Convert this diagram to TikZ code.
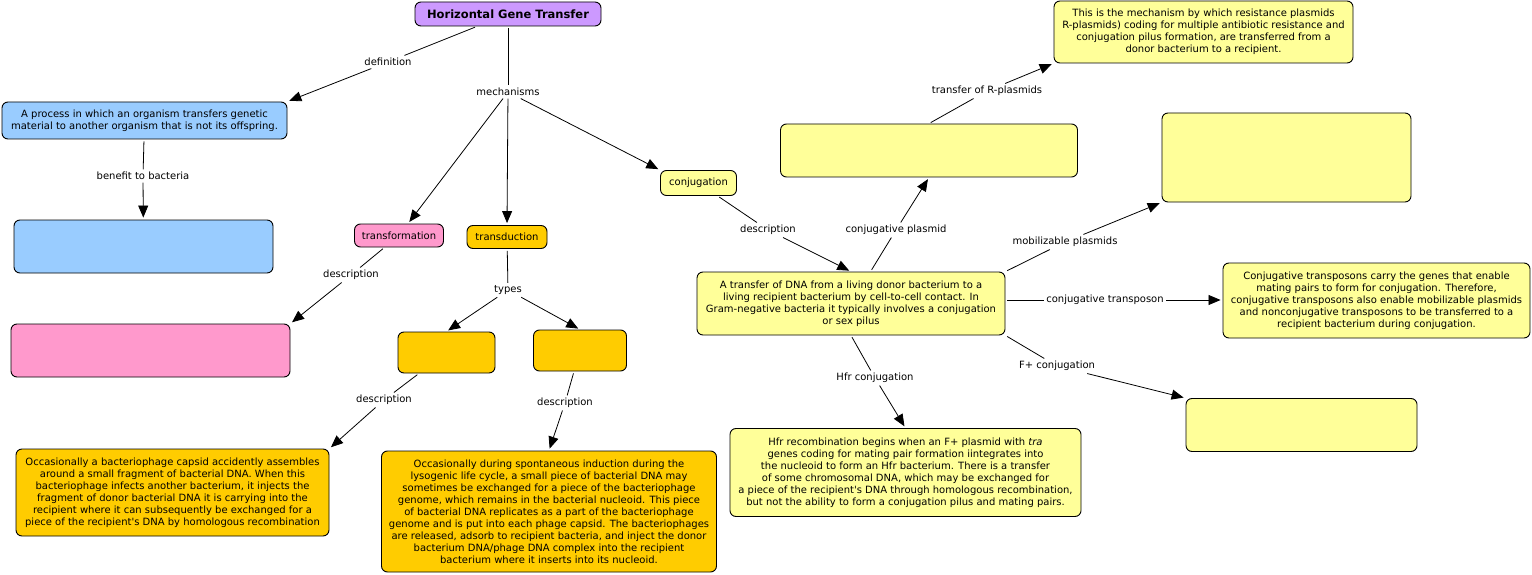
\documentclass[tikz,border=0pt]{standalone}
\usepackage{fontspec}
\setmainfont{DejaVu Sans}
\usetikzlibrary{arrows.meta}
\definecolor{cpurple}{HTML}{CC99FF}
\definecolor{cblue}{HTML}{99CCFF}
\definecolor{cpink}{HTML}{FF99CC}
\definecolor{corange}{HTML}{FFCC00}
\definecolor{cyellow}{HTML}{FFFF99}
\newcommand{\txtfont}{\fontsize{10}{12}\selectfont}
\newcommand{\apos}{\textquotesingle}
\begin{document}
\begin{tikzpicture}[x=1pt,y=-1pt,
  box/.style={draw=black, line width=0.9pt, rounded corners=6pt, align=center, inner sep=0pt, font=\txtfont},
  lbl/.style={font=\txtfont, inner sep=2.5pt},
  conn/.style={line width=0.8pt, shorten <=2pt},
  arr/.style={line width=0.8pt, shorten >=2pt, -{Triangle[length=12pt,width=10pt]}}
]
\useasboundingbox (0,0) rectangle (1532,575);
% concept nodes
\node[box, fill=cpurple, minimum width=186, minimum height=24, font=\bfseries\fontsize{11.5}{13}\selectfont] (hgt) at (508,14) {Horizontal Gene Transfer};
\node[box, fill=cblue, minimum width=285, minimum height=37] (def) at (144.5,120.5) {A process in which an organism transfers genetic\\material to another organism that is not its offspring.};
\node[box, fill=cblue, minimum width=259, minimum height=53] (ben) at (143.5,246.5) {};
\node[box, fill=cpink, minimum width=89, minimum height=23] (tf) at (399,235.5) {transformation};
\node[box, fill=cpink, minimum width=279, minimum height=53] (tfd) at (150.5,350.5) {};
\node[box, fill=corange, minimum width=80, minimum height=23] (td) at (507,237) {transduction};
\node[box, fill=corange, minimum width=97, minimum height=41] (ty1) at (446.5,352.5) {};
\node[box, fill=corange, minimum width=93, minimum height=41] (ty2) at (580,350.5) {};
\node[box, fill=corange, minimum width=313, minimum height=87] (ty1d) at (172.5,492.5) {Occasionally a bacteriophage capsid accidently assembles\\around a small fragment of bacterial DNA. When this\\bacteriophage infects another bacterium, it injects the\\fragment of donor bacterial DNA it is carrying into the\\recipient where it can subsequently be exchanged for a\\piece of the recipient\apos s DNA by homologous recombination};
\node[box, fill=corange, minimum width=335, minimum height=121] (ty2d) at (549,511.5) {Occasionally during spontaneous induction during the\\lysogenic life cycle, a small piece of bacterial DNA may\\sometimes be exchanged for a piece of the bacteriophage\\genome, which remains in the bacterial nucleoid. This piece\\of bacterial DNA replicates as a part of the bacteriophage\\genome and is put into each phage capsid. The bacteriophages\\are released, adsorb to recipient bacteria, and inject the donor\\bacterium DNA/phage DNA complex into the recipient\\bacterium where it inserts into its nucleoid.};
\node[box, fill=cyellow, minimum width=76, minimum height=25] (cj) at (698.5,183) {conjugation};
\node[box, fill=cyellow, minimum width=297, minimum height=53] (cp) at (929,150.5) {};
\node[box, fill=cyellow, minimum width=299, minimum height=62] (rp) at (1203.5,32) {This is the mechanism by which resistance plasmids\\R-plasmids) coding for multiple antibiotic resistance and\\conjugation pilus formation, are transferred from a\\donor bacterium to a recipient.};
\node[box, fill=cyellow, minimum width=249, minimum height=89] (mp) at (1286.5,157.5) {};
\node[box, fill=cyellow, minimum width=308, minimum height=63] (cd) at (851,303.5) {A transfer of DNA from a living donor bacterium to a\\living recipient bacterium by cell-to-cell contact. In\\Gram-negative bacteria it typically involves a conjugation\\or sex pilus};
\node[box, fill=cyellow, minimum width=307, minimum height=75] (ct) at (1376.5,300.5) {Conjugative transposons carry the genes that enable\\mating pairs to form for conjugation. Therefore,\\conjugative transposons also enable mobilizable plasmids\\and nonconjugative transposons to be transferred to a\\recipient bacterium during conjugation.};
\node[box, fill=cyellow, minimum width=231, minimum height=53] (fp) at (1301.5,425) {};
\node[box, fill=cyellow, minimum width=351, minimum height=88] (hf) at (905.5,472.5) {Hfr recombination begins when an F+ plasmid with \textit{tra}\\genes coding for mating pair formation iintegrates into\\the nucleoid to form an Hfr bacterium. There is a transfer\\of some chromosomal DNA, which may be exchanged for\\a piece of the recipient\apos s DNA through homologous recombination,\\but not the ability to form a conjugation pilus and mating pairs.};
% linking phrases
\node[lbl] (l1) at (388,62) {definition};
\node[lbl] (l2) at (508,92) {mechanisms};
\node[lbl] (l3) at (143,176) {benefit to bacteria};
\node[lbl] (l4) at (351,275) {description};
\node[lbl] (l5) at (508,290) {types};
\node[lbl] (l6) at (384,400) {description};
\node[lbl] (l7) at (565,403) {description};
\node[lbl] (l8) at (768,230) {description};
\node[lbl] (l9) at (896,230) {conjugative plasmid};
\node[lbl] (l10) at (987,91) {transfer of R-plasmids};
\node[lbl] (l11) at (1065,242) {mobilizable plasmids};
\node[lbl] (l12) at (1105,300) {conjugative transposon};
\node[lbl] (l13) at (1057,366) {F+ conjugation};
\node[lbl] (l14) at (875,378) {Hfr conjugation};
% connectors
\draw[conn] (hgt) -- (l1); \draw[arr] (l1) -- (def.north east);
\draw[conn] (hgt) -- (l2);
\draw[arr] (l2) -- (tf); \draw[arr] (l2) -- (td.north); \draw[arr] (l2) -- (cj.north west);
\draw[conn] (def) -- (l3); \draw[arr] (l3) -- (ben);
\draw[conn] (tf) -- (l4); \draw[arr] (l4) -- (tfd.north east);
\draw[conn] (td) -- (l5); \draw[arr] (l5) -- (ty1.north); \draw[arr] (l5) -- (ty2.north);
\draw[conn] (ty1) -- (l6); \draw[arr] (l6) -- (ty1d.north east);
\draw[conn] (ty2) -- (l7); \draw[arr] (l7) -- (ty2d.north);
\draw[conn] (cj) -- (l8); \draw[arr] (l8) -- (cd.north);
\draw[conn] (cd) -- (l9); \draw[arr] (l9) -- (cp.south);
\draw[conn] (cp.north) -- (l10); \draw[arr] (l10) -- (rp.south west);
\draw[conn] (cd.north east) -- (l11); \draw[arr] (l11) -- (mp.south west);
\draw[conn] (cd.east |- l12) -- (l12); \draw[arr] (l12) -- (ct.west |- l12);
\draw[conn] (cd.south east) -- (l13); \draw[arr] (l13) -- (fp.north west);
\draw[conn] (cd.south) -- (l14); \draw[arr] (l14) -- (hf.north);
\end{tikzpicture}
\end{document}
